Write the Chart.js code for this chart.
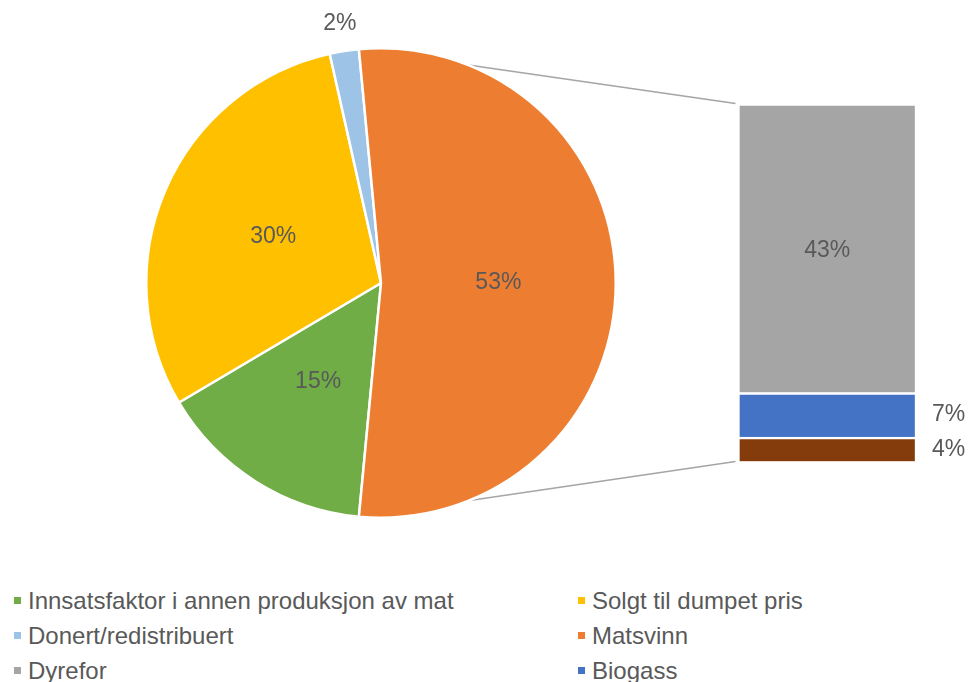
<!DOCTYPE html>
<html>
<head>
<meta charset="utf-8">
<script src="https://cdn.jsdelivr.net/npm/chart.js@4.4.1/dist/chart.umd.min.js"></script>
<style>
  body { margin: 0; background: #fff; }
  #wrap { position: relative; width: 970px; height: 682px; overflow: hidden; font-family: "Liberation Sans", Arial, sans-serif; }
  #wrap canvas { position: absolute; left: 0; top: 0; }
  #barChart { z-index: 0; }
  #pieChart { z-index: 1; }
  .leg { position: absolute; color: #595959; font-size: 24px; line-height: 26px; white-space: nowrap; }
  .leg i { position: absolute; left: -14px; top: 9px; width: 7px; height: 7px; }
</style>
</head>
<body>
<div id="wrap">
  <canvas id="barChart" width="970" height="560"></canvas>
  <canvas id="pieChart" width="970" height="560"></canvas>
  <div id="legend"></div>
</div>
<script>
// pie (hovedfordeling)
const pieLabels = ['Innsatsfaktor i annen produksjon av mat', 'Solgt til dumpet pris', 'Donert/redistribuert', 'Matsvinn'];
const pieValues = [15, 30, 2, 53];
const pieColors = ['#70AD47', '#FFC000', '#9DC3E6', '#ED7D31'];

// stolpe som deler opp matsvinn (nederst -> øverst)
const barLabels = ['Annet', 'Biogass', 'Dyrefor'];
const barValues = [3.6, 6.6, 42.8];
const barColors = ['#843C0C', '#4472C4', '#A5A5A5'];

const FONT = '"Liberation Sans", Arial, sans-serif';
const TEXT = '#595959';

// roter slik at Matsvinn står midt på høyre side
const idxSplit = pieLabels.indexOf('Matsvinn');
const total = pieValues.reduce((a, b) => a + b, 0);
const before = pieValues.slice(0, idxSplit).reduce((a, b) => a + b, 0);
const rotation = 90 - (before + pieValues[idxSplit] / 2) / total * 360;

const pieLabelPlugin = {
  id: 'pieLabels',
  afterDatasetsDraw(chart) {
    const ctx = chart.ctx;
    const arcs = chart.getDatasetMeta(0).data;
    ctx.save();
    ctx.font = '23px ' + FONT;
    ctx.fillStyle = TEXT;
    ctx.textAlign = 'center';
    ctx.textBaseline = 'middle';
    arcs.forEach((arc, i) => {
      const v = pieValues[i];
      let x, y;
      if (v / total < 0.05) {
        const mid = (arc.startAngle + arc.endAngle) / 2;
        const r = arc.outerRadius + 28;
        x = arc.x + Math.cos(mid) * r;
        y = arc.y + Math.sin(mid) * r;
      } else {
        const p = arc.tooltipPosition();
        x = p.x; y = p.y;
      }
      ctx.fillText(Math.round(v) + '%', x, y);
    });
    ctx.restore();
  }
};

const pieChart = new Chart(document.getElementById('pieChart'), {
  type: 'pie',
  data: {
    labels: pieLabels,
    datasets: [{
      data: pieValues,
      backgroundColor: pieColors,
      borderColor: '#fff',
      borderWidth: 2.5
    }]
  },
  options: {
    responsive: false,
    animation: false,
    rotation: rotation,
    layout: { padding: { left: 145, right: 353, top: 47, bottom: 41 } },
    plugins: { legend: { display: false }, tooltip: { enabled: false } }
  },
  plugins: [pieLabelPlugin]
});

const connectorPlugin = {
  id: 'connector',
  beforeDatasetsDraw(chart) {
    const arc = pieChart.getDatasetMeta(0).data[idxSplit];
    const bars = chart.data.datasets.map((d, i) => chart.getDatasetMeta(i).data[0]);
    const top = bars[bars.length - 1];
    const bottom = bars[0];
    const left = top.x - top.width / 2;
    const ctx = chart.ctx;
    ctx.save();
    ctx.strokeStyle = '#A5A5A5';
    ctx.lineWidth = 1.5;
    ctx.beginPath();
    ctx.moveTo(arc.x + Math.cos(arc.startAngle) * arc.outerRadius, arc.y + Math.sin(arc.startAngle) * arc.outerRadius);
    ctx.lineTo(left - 2, top.y);
    ctx.moveTo(arc.x + Math.cos(arc.endAngle) * arc.outerRadius, arc.y + Math.sin(arc.endAngle) * arc.outerRadius);
    ctx.lineTo(left - 2, bottom.base);
    ctx.stroke();
    ctx.restore();
  },
  afterDatasetsDraw(chart) {
    const ctx = chart.ctx;
    ctx.save();
    ctx.font = '23px ' + FONT;
    ctx.fillStyle = TEXT;
    ctx.textBaseline = 'middle';
    chart.data.datasets.forEach((d, i) => {
      const bar = chart.getDatasetMeta(i).data[0];
      const cy = (bar.y + bar.base) / 2;
      const txt = Math.round(barValues[i]) + '%';
      if (Math.abs(bar.base - bar.y) > 80) {
        ctx.textAlign = 'center';
        ctx.fillText(txt, bar.x, cy + 3);
      } else {
        ctx.textAlign = 'left';
        ctx.fillText(txt, bar.x + bar.width / 2 + 15, cy);
      }
    });
    ctx.restore();
  }
};

new Chart(document.getElementById('barChart'), {
  type: 'bar',
  data: {
    labels: ['Matsvinn'],
    datasets: barLabels.map((l, i) => ({
      label: l,
      data: [barValues[i]],
      backgroundColor: barColors[i],
      borderColor: '#fff',
      borderWidth: 2.5,
      barPercentage: 1,
      categoryPercentage: 1
    }))
  },
  options: {
    responsive: false,
    animation: false,
    layout: { padding: { left: 737.5, right: 53, top: 103.5, bottom: 98.5 } },
    scales: {
      x: { stacked: true, display: false },
      y: { stacked: true, display: false, min: 0, max: barValues.reduce((a, b) => a + b, 0) }
    },
    plugins: { legend: { display: false }, tooltip: { enabled: false } }
  },
  plugins: [connectorPlugin]
});

// legende i to kolonner
const legendItems = pieLabels.map((l, i) => [l, pieColors[i]])
  .concat([[barLabels[2], barColors[2]], [barLabels[1], barColors[1]]]);
const legendEl = document.getElementById('legend');
legendItems.forEach(([label, color], i) => {
  const el = document.createElement('div');
  el.className = 'leg';
  el.style.left = (i % 2 === 0 ? 28 : 592) + 'px';
  el.style.top = (588 + Math.floor(i / 2) * 35) + 'px';
  el.innerHTML = '<i style="background:' + color + '"></i>' + label;
  legendEl.appendChild(el);
});
</script>
</body>
</html>
